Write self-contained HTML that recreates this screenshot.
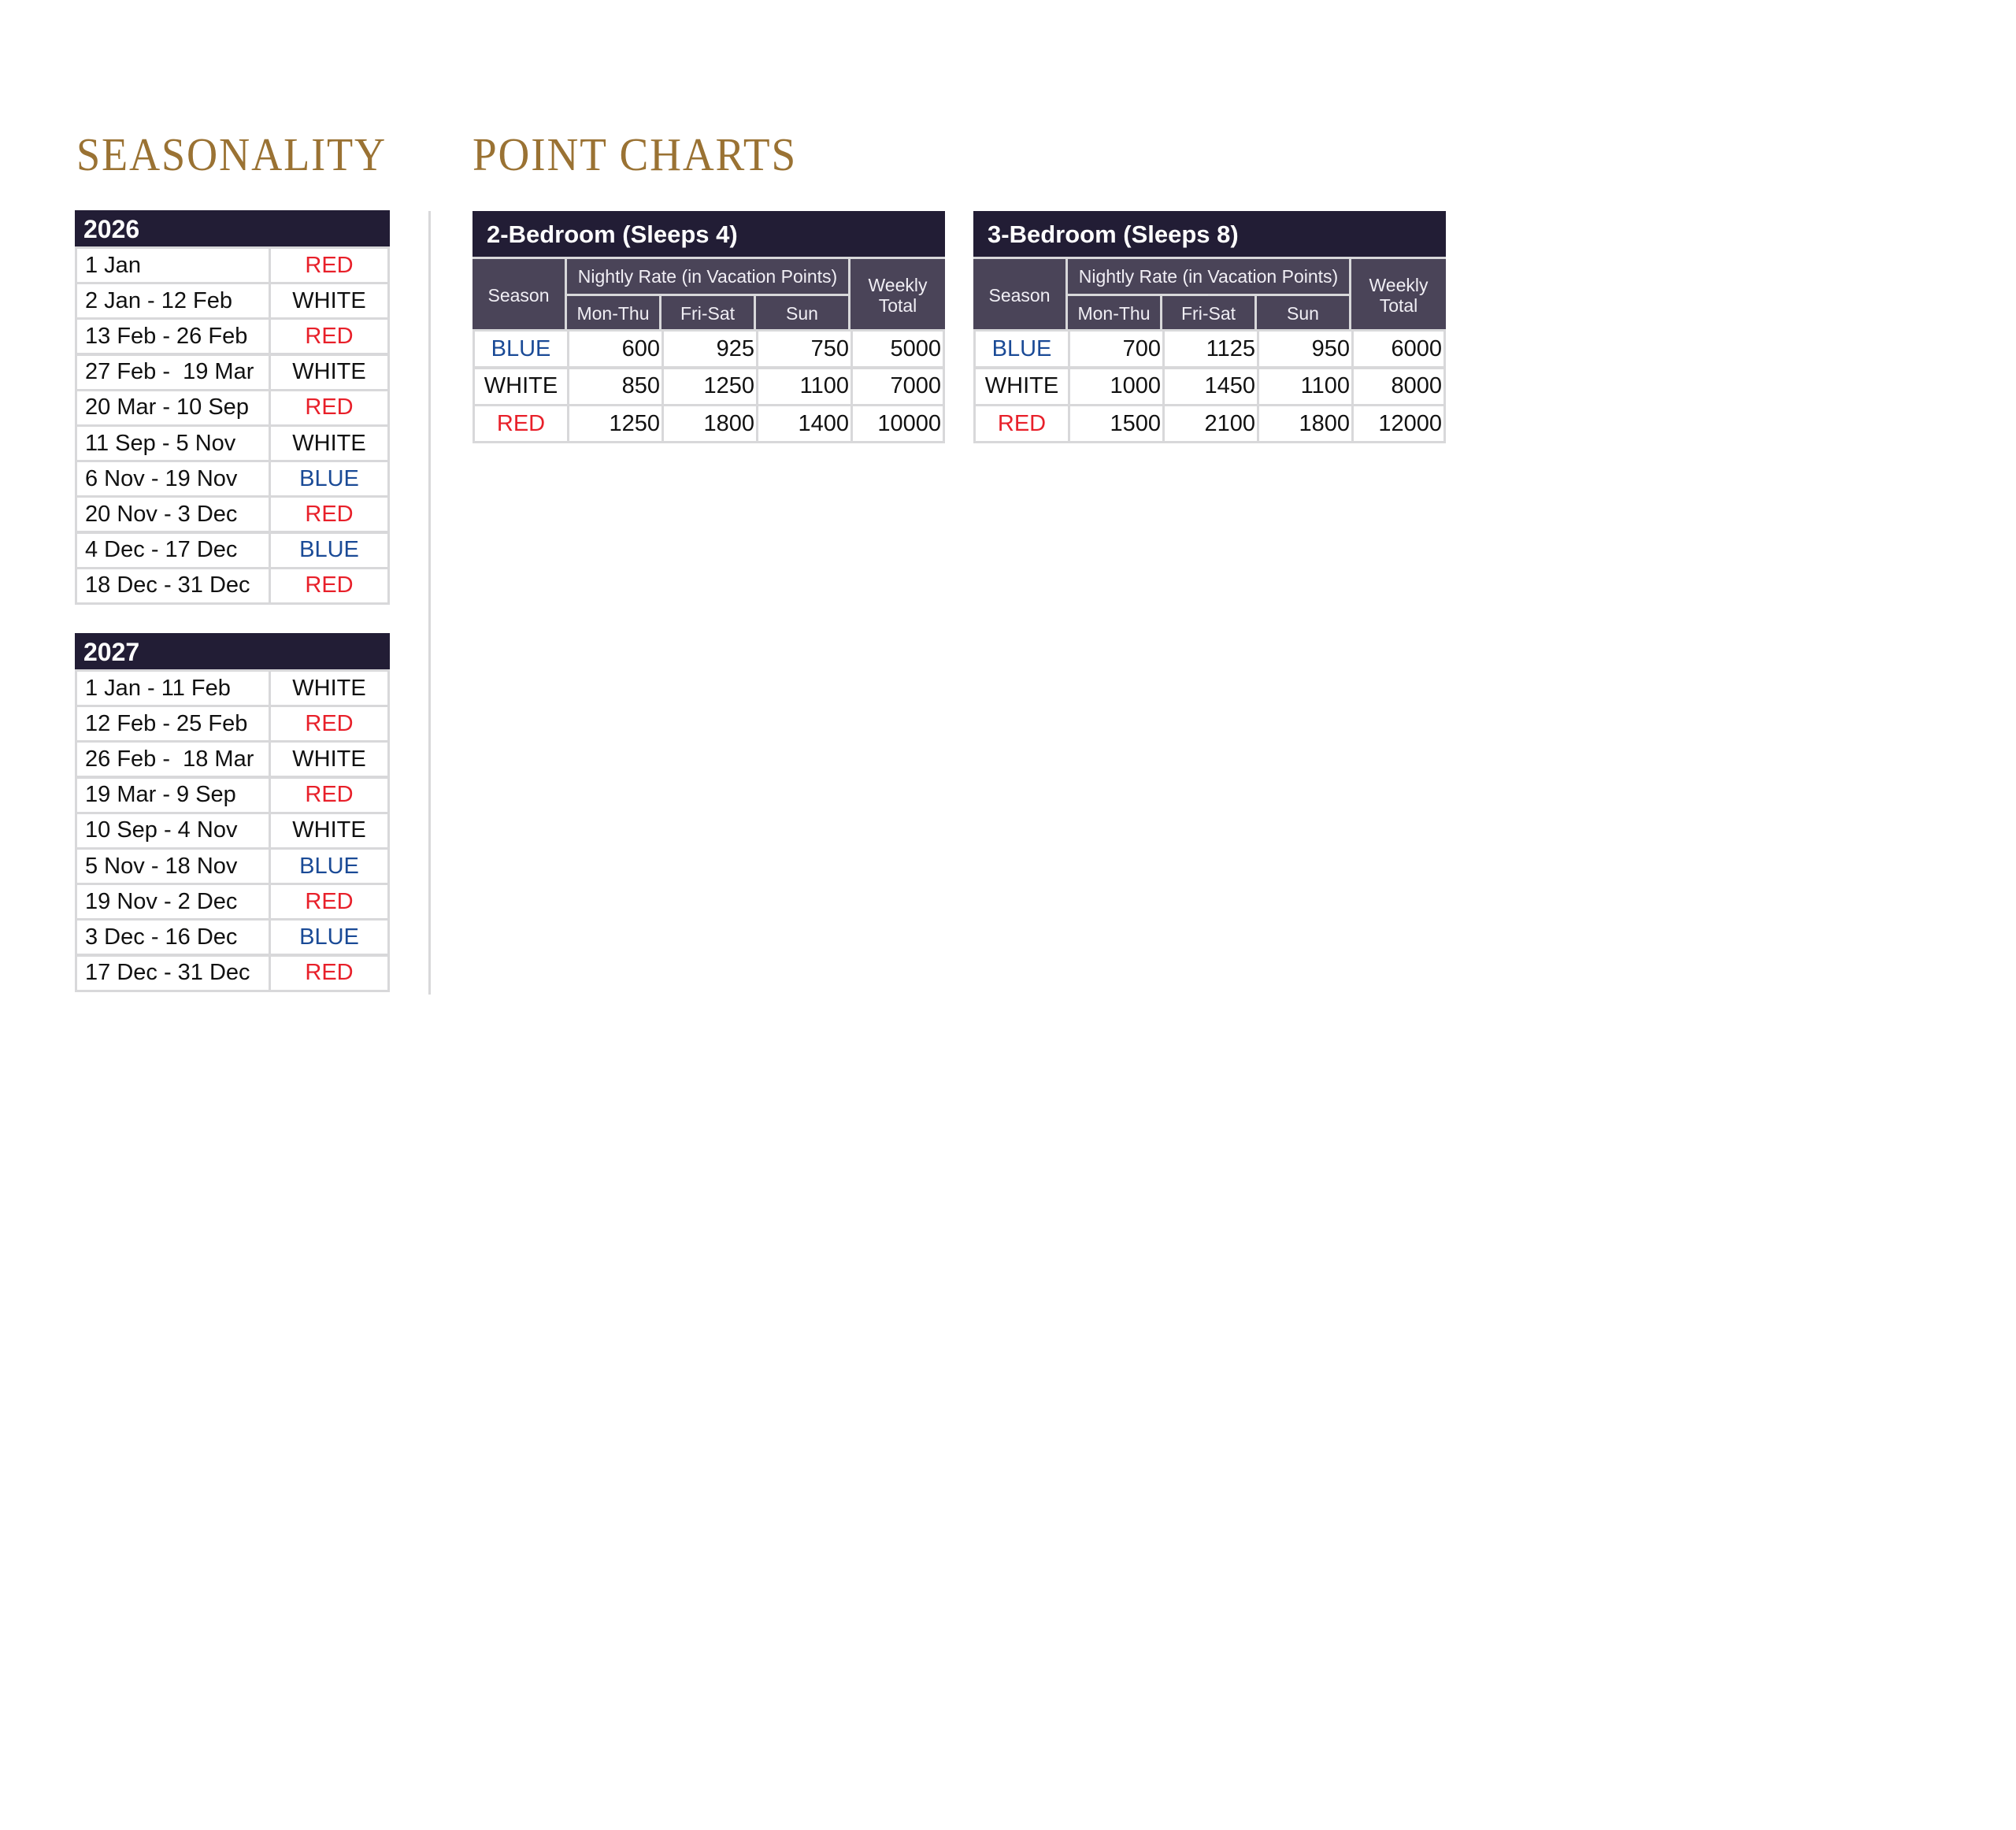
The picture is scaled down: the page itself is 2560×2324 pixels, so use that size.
<!DOCTYPE html>
<html><head><meta charset="utf-8">
<style>
html,body{margin:0;padding:0;background:#fff;}
body{width:2560px;height:2324px;position:relative;overflow:hidden;font-family:"Liberation Sans",sans-serif;}
.ttl{position:absolute;font-family:"Liberation Serif",serif;color:#9a7233;font-size:59px;line-height:1;white-space:nowrap;letter-spacing:2px;}
.a{position:absolute;box-sizing:border-box;}
.hd{background:#221d35;color:#fff;font-weight:bold;}
.sh{background:#4a4458;color:#f0eef4;font-size:23px;display:flex;align-items:center;justify-content:center;text-align:center;line-height:1.15;}
.c{background:#fff;border:3px solid #d8d8da;font-size:29px;color:#111;display:flex;align-items:center;}
.red{color:#e8202a}.blue{color:#1a4a96}
</style></head><body>
<div class="ttl fit" data-w="394" style="left:97px;top:167px;">SEASONALITY</div>
<div class="ttl fit" data-w="412" style="left:600px;top:167px;">POINT CHARTS</div>
<div class="a" style="left:544px;top:268px;width:3px;height:995px;background:#d8d8da"></div>
<div id="root"></div>
<script>
var h='';
function box(x,y,w,ht,cls,txt,st){h+='<div class="a '+cls+'" style="left:'+x+'px;top:'+y+'px;width:'+w+'px;height:'+ht+'px;'+(st||'')+'">'+txt+'</div>';}
function col(s){return s=='RED'?'red':s=='BLUE'?'blue':'';}
function season(y,year,rows){
 box(95,y,400,47,'hd',year,'font-size:32px;padding:6px 0 0 11px;');
 var ry=y+46;
 rows.forEach(function(r,i){
  var yy=ry+i*45.2;
  box(95,yy,249,48,'c',r[0],'padding-left:10px;');
  box(341,yy,154,48,'c','<span class="'+col(r[1])+'" style="width:100%;text-align:center">'+r[1]+'</span>','');
 });
}
season(267,'2026',[['1 Jan','RED'],['2 Jan - 12 Feb','WHITE'],['13 Feb - 26 Feb','RED'],['27 Feb -&nbsp; 19 Mar','WHITE'],['20 Mar - 10 Sep','RED'],['11 Sep - 5 Nov','WHITE'],['6 Nov - 19 Nov','BLUE'],['20 Nov - 3 Dec','RED'],['4 Dec - 17 Dec','BLUE'],['18 Dec - 31 Dec','RED']]);
season(804,'2027',[['1 Jan - 11 Feb','WHITE'],['12 Feb - 25 Feb','RED'],['26 Feb -&nbsp; 18 Mar','WHITE'],['19 Mar - 9 Sep','RED'],['10 Sep - 4 Nov','WHITE'],['5 Nov - 18 Nov','BLUE'],['19 Nov - 2 Dec','RED'],['3 Dec - 16 Dec','BLUE'],['17 Dec - 31 Dec','RED']]);
function chart(x0,title,data){
 var xs=[x0,x0+120,x0+240,x0+360,x0+480,x0+600];
 box(x0,268,600,58,'hd',title,'font-size:31px;padding:12px 0 0 18px;');
 var sb='border-right:3px solid #d8d8da;border-top:3px solid #d8d8da;';
 box(xs[0],326,120,95,'sh','Season',sb);
 box(xs[1],326,360,47,'sh','Nightly Rate (in Vacation Points)',sb);
 box(xs[1],373,120,48,'sh','Mon-Thu',sb);
 box(xs[2],373,120,48,'sh','Fri-Sat',sb);
 box(xs[3],373,120,48,'sh','Sun',sb);
 box(xs[4],326,120,95,'sh','Weekly<br>Total','border-top:3px solid #d8d8da;');
 data.forEach(function(r,i){
  var y=418+i*47.5;
  box(xs[0],y,123,50,'c','<span class="'+col(r[0])+'" style="width:100%;text-align:center">'+r[0]+'</span>','');
  for(var j=1;j<5;j++) box(xs[j],y,j==4?120:123,50,'c','<span style="width:100%;text-align:right">'+r[j]+'</span>','padding-right:2px;');
 });
}
chart(600,'2-Bedroom (Sleeps 4)',[['BLUE','600','925','750','5000'],['WHITE','850','1250','1100','7000'],['RED','1250','1800','1400','10000']]);
chart(1236,'3-Bedroom (Sleeps 8)',[['BLUE','700','1125','950','6000'],['WHITE','1000','1450','1100','8000'],['RED','1500','2100','1800','12000']]);
document.getElementById('root').innerHTML=h;
document.querySelectorAll('.fit').forEach(function(e){var w=e.getBoundingClientRect().width,t=+e.dataset.w;e.style.transformOrigin='0 0';e.style.transform='scaleX('+(t/w)+')';});
</script>
</body></html>
